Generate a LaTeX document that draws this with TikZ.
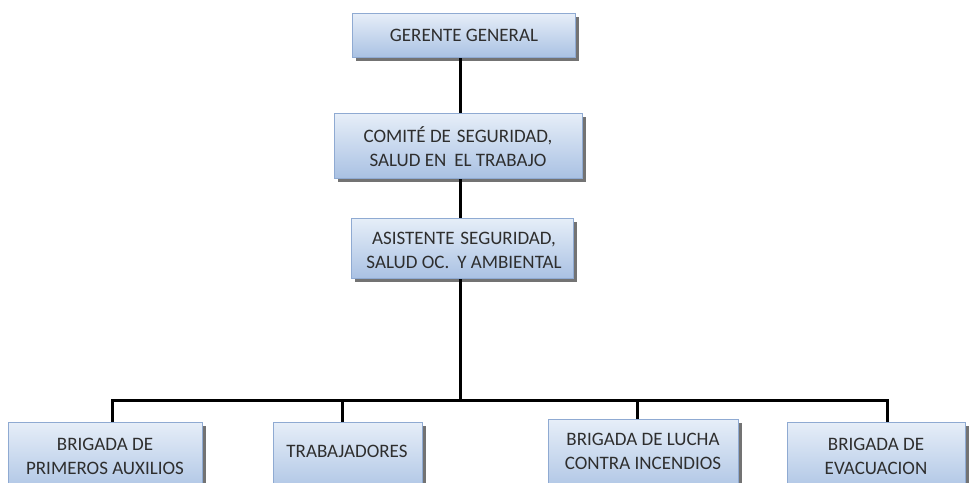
\documentclass[tikz,border=0pt]{standalone}
\usepackage{fontspec}
\setmainfont{Carlito}
\usetikzlibrary{shadows}
\definecolor{bord}{HTML}{8FAAD2}
\definecolor{topc}{HTML}{E6EEF8}
\definecolor{botc}{HTML}{A9C1E3}
\definecolor{txtc}{HTML}{2E2E2E}
\begin{document}
\begin{tikzpicture}[x=1pt,y=-1pt,
  box/.style={draw=bord, line width=1pt, top color=topc, bottom color=botc,
    drop shadow={shadow xshift=3pt, shadow yshift=-3pt, fill=black, opacity=0.55},
    anchor=north west, inner sep=0pt},
  lbl/.style={text=txtc, font=\fontsize{19}{24}\selectfont, align=center, inner sep=0pt},
  conn/.style={line width=3pt, draw=black}]
\useasboundingbox[fill=white] (0,0) rectangle (969,482);

% connectors
\coordinate (spine) at (460,0);
\coordinate (d1) at (112,400);
\coordinate (d2) at (342,400);
\coordinate (d3) at (637,400);
\coordinate (d4) at (887,400);

% boxes
\node[box, minimum width=223pt, minimum height=44pt] (g) at (352,13) {};
\node[box, minimum width=248pt, minimum height=65pt] (c) at (334,113) {};
\node[box, minimum width=222pt, minimum height=60pt] (a) at (351,218) {};
\node[box, minimum width=194pt, minimum height=75pt] (b1) at (8,422) {};
\node[box, minimum width=149pt, minimum height=75pt] (b2) at (273,422) {};
\node[box, minimum width=190pt, minimum height=78pt] (b3) at (548,419) {};
\node[box, minimum width=178pt, minimum height=75pt] (b4) at (787,422) {};

\draw[conn] (g.south -| spine) -- (c.north -| spine);
\draw[conn] (c.south -| spine) -- (a.north -| spine);
\draw[conn] (a.south -| spine) -- (spine |- d1);
\draw[conn, line cap=rect] (d1) -- (d4);
\draw[conn] (d1) -- (d1 |- b1.north);
\draw[conn] (d2) -- (d2 |- b2.north);
\draw[conn] (d3) -- (d3 |- b3.north);
\draw[conn] (d4) -- (d4 |- b4.north);

% texts
\node[lbl] (tg) at (464,35) {GERENTE GENERAL};
\node[lbl] (tc) at (458,147) {COMITÉ DE\hspace{6pt}SEGURIDAD,\\SALUD EN\hspace{8pt}EL TRABAJO};
\node[lbl] (ta) at (464,250) {ASISTENTE\hspace{6pt}SEGURIDAD,\\SALUD OC.\hspace{8pt}Y AMBIENTAL};
\node[lbl] (t1) at (105,456) {BRIGADA DE\\PRIMEROS AUXILIOS};
\node[lbl] (t2) at (347,451) {TRABAJADORES};
\node[lbl] (t3) at (643,451) {BRIGADA DE LUCHA\\CONTRA INCENDIOS};
\node[lbl] (t4) at (876,456) {BRIGADA DE\\EVACUACION};
\end{tikzpicture}
\end{document}
